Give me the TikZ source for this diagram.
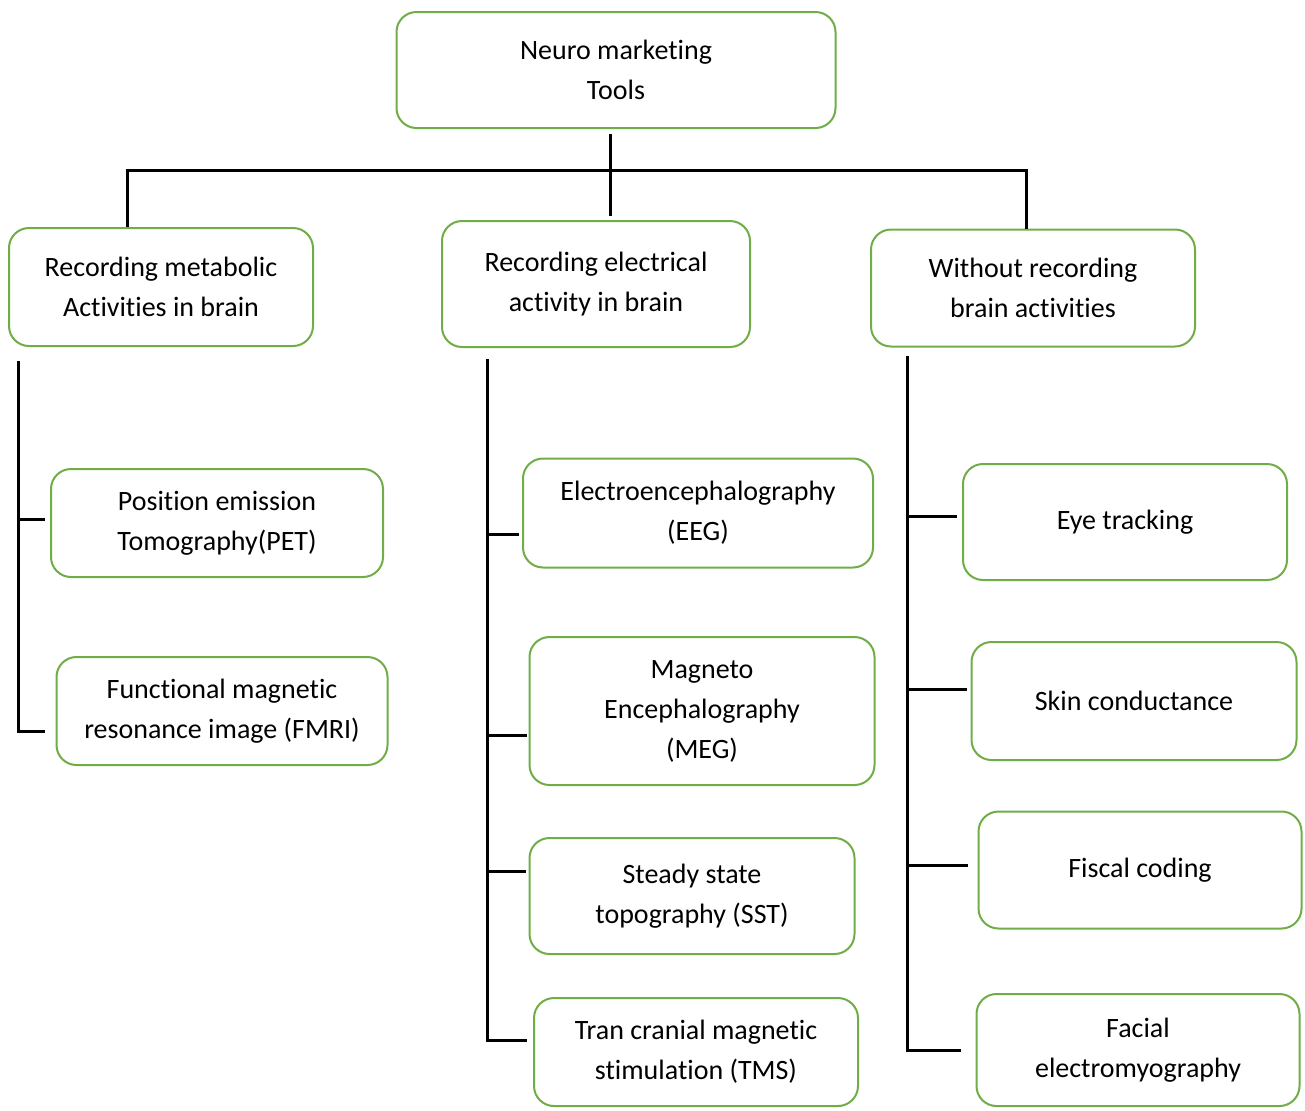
\documentclass[tikz,border=0pt]{standalone}
\usepackage{fontspec}
\setmainfont{Carlito}[Ligatures=NoCommon]
\definecolor{boxgreen}{RGB}{112,173,71}

\begin{document}
\begin{tikzpicture}[x=0.5pt, y=-0.5pt,
    % Styles
    tool/.style={draw=boxgreen, line width=1pt, rounded corners=10pt, align=center, inner sep=0pt, font=\fontsize{14}{20}\selectfont},
    branch/.style={draw=black, line width=1.5pt},
]
\useasboundingbox (0,0) rectangle (1305,1110);

% Root
\node[tool, minimum width=219.5pt, minimum height=58pt] (root) at (616,70) {Neuro marketing\\Tools};

% Three groups
\node[tool, minimum width=152pt, minimum height=59pt] (metabolic) at (161,287) {Recording metabolic\\Activities in brain};
\node[tool, minimum width=154pt, minimum height=63pt] (electrical) at (596,284) {Recording electrical\\activity in brain};
\node[tool, minimum width=162pt, minimum height=58.5pt] (without) at (1033,288) {Without recording\\brain activities};

% Metabolic tools
\node[tool, minimum width=166pt, minimum height=54pt] (pet) at (217,523) {Position emission\\Tomography(PET)};
\node[tool, minimum width=165.5pt, minimum height=54pt] (fmri) at (222,711) {Functional magnetic\\resonance image (FMRI)};

% Electrical tools
\node[tool, minimum width=175pt, minimum height=54.5pt] (eeg) at (698,513) {Electroencephalography\\(EEG)};
\node[tool, minimum width=172.5pt, minimum height=74pt] (meg) at (702,711) {Magneto\\Encephalography\\(MEG)};
\node[tool, minimum width=162.5pt, minimum height=58pt] (sst) at (692,896) {Steady state\\topography (SST)};
\node[tool, minimum width=162pt, minimum height=54pt] (tms) at (696,1052) {Tran cranial magnetic\\stimulation (TMS)};

% Tools without brain recording
\node[tool, minimum width=162pt, minimum height=58pt] (eye) at (1125,522) {Eye tracking};
\node[tool, minimum width=162.5pt, minimum height=59pt] (skin) at (1134,701) {Skin conductance};
\node[tool, minimum width=161.5pt, minimum height=58.5pt] (fiscal) at (1140,870) {Fiscal coding};
\node[tool, minimum width=161.5pt, minimum height=56pt] (facial) at (1138,1050) {Facial\\electromyography};

% Root to groups
\coordinate (hub) at (610,170);
\draw[branch] ([shift={(-6,5)}]root.south) -- ([shift={(14,-4)}]electrical.north);
\draw[branch] ([shift={(-34,0)}]metabolic.north) |- (hub) -| ([shift={(-7,0)}]without.north);

% Left bracket
\coordinate (lspine) at ([shift={(-143,14)}]metabolic.south);
\coordinate (petin) at ([shift={(-5,-4)}]pet.west);
\coordinate (fmriin) at ([shift={(-11,20)}]fmri.west);
\draw[branch] (lspine) |- (fmriin);
\draw[branch] (lspine |- petin) -- (petin);

% Middle bracket
\coordinate (mspine) at ([shift={(-109,11)}]electrical.south);
\coordinate (eegin) at ([shift={(-3,21)}]eeg.west);
\coordinate (megin) at ([shift={(-2,24)}]meg.west);
\coordinate (sstin) at ([shift={(-3,-25)}]sst.west);
\coordinate (tmsin) at ([shift={(-6,-12)}]tms.west);
\draw[branch] (mspine) |- (tmsin);
\draw[branch] (mspine |- eegin) -- (eegin);
\draw[branch] (mspine |- megin) -- (megin);
\draw[branch] (mspine |- sstin) -- (sstin);

% Right bracket
\coordinate (rspine) at ([shift={(-126,8)}]without.south);
\coordinate (eyein) at ([shift={(-5,-6)}]eye.west);
\coordinate (skinin) at ([shift={(-4,-12)}]skin.west);
\coordinate (fiscalin) at ([shift={(-10,-5)}]fiscal.west);
\coordinate (facialin) at ([shift={(-15,0)}]facial.west);
\draw[branch] (rspine) |- (facialin);
\draw[branch] (rspine |- eyein) -- (eyein);
\draw[branch] (rspine |- skinin) -- (skinin);
\draw[branch] (rspine |- fiscalin) -- (fiscalin);

\end{tikzpicture}
\end{document}
